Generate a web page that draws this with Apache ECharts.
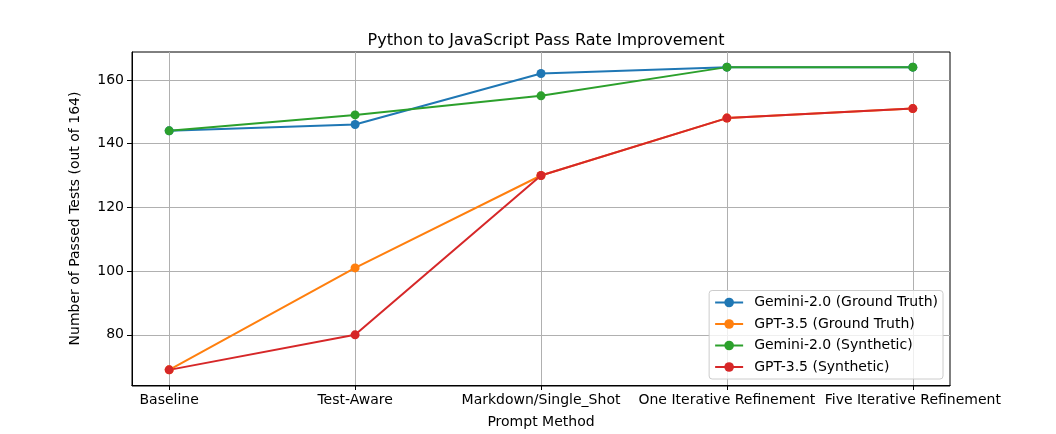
<!DOCTYPE html>
<html>
<head>
<meta charset="utf-8">
<script src="https://cdn.jsdelivr.net/npm/echarts@6/dist/echarts.min.js"></script>
<style>
  html, body { margin: 0; padding: 0; background: #fff; }
  #chart { width: 1056px; height: 434px; }
</style>
</head>
<body>
<div id="chart"></div>
<script>
const categories = ['Baseline', 'Test-Aware', 'Markdown/Single_Shot', 'One Iterative Refinement', 'Five Iterative Refinement'];
const yTicks = [80, 100, 120, 140, 160];

const geminiGround = [144, 146, 162, 164, 164];
const gptGround = [69, 101, 130, 148, 151];
const geminiSynth = [144, 149, 155, 164, 164];
const gptSynth = [69, 80, 130, 148, 151];

const font = 'DejaVu Sans, sans-serif';

function pairs(vals) {
  return vals.map((v, i) => [i, v]);
}

function line(name, color, vals) {
  return {
    name: name,
    type: 'line',
    data: pairs(vals),
    symbol: 'circle',
    symbolSize: 9,
    color: color,
    lineStyle: { width: 2, color: color },
    itemStyle: { color: color },
    emphasis: { disabled: true },
    animation: false
  };
}

const chart = echarts.init(document.getElementById('chart'), null, { renderer: 'canvas' });

chart.setOption({
  backgroundColor: '#fff',
  textStyle: { fontFamily: font },
  title: {
    text: 'Python to JavaScript Pass Rate Improvement',
    left: 541,
    textAlign: 'center',
    top: 28,
    textStyle: { fontFamily: font, fontSize: 16, fontWeight: 'normal', color: '#000' }
  },
  grid: { left: 132, right: 106, top: 52, bottom: 48, containLabel: false },
  legend: {
    orient: 'vertical',
    right: 113,
    bottom: 55,
    padding: [5, 5, 5, 5],
    itemWidth: 28,
    itemHeight: 12,
    itemGap: 7.5,
    backgroundColor: 'rgba(255,255,255,0.8)',
    borderColor: '#cccccc',
    borderWidth: 1,
    borderRadius: 3,
    textStyle: { fontFamily: font, fontSize: 14, color: '#000', lineHeight: 12, padding: [0, 0, 0, 6] },
    data: ['Gemini-2.0 (Ground Truth)', 'GPT-3.5 (Ground Truth)', 'Gemini-2.0 (Synthetic)', 'GPT-3.5 (Synthetic)']
  },
  xAxis: {
    type: 'value',
    min: -0.2,
    max: 4.2,
    name: 'Prompt Method',
    nameLocation: 'middle',
    nameGap: 30,
    nameTextStyle: { fontFamily: font, fontSize: 14, color: '#000' },
    axisLine: { show: true, onZero: false, lineStyle: { color: '#000', width: 1 } },
    axisTick: { show: true, length: 5, customValues: [0, 1, 2, 3, 4], lineStyle: { color: '#000' } },
    axisLabel: {
      customValues: [0, 1, 2, 3, 4],
      formatter: v => categories[Math.round(v)],
      fontFamily: font, fontSize: 14, color: '#000', margin: 8
    },
    splitLine: { show: true, lineStyle: { color: '#b0b0b0', width: 1 } }
  },
  yAxis: {
    type: 'value',
    min: 64.25,
    max: 168.75,
    name: 'Number of Passed Tests (out of 164)',
    nameLocation: 'middle',
    nameGap: 50,
    nameTextStyle: { fontFamily: font, fontSize: 14, color: '#000' },
    axisLine: { show: true, onZero: false, lineStyle: { color: '#000', width: 1 } },
    axisTick: { show: true, length: 5, customValues: yTicks, lineStyle: { color: '#000' } },
    axisLabel: { customValues: yTicks, fontFamily: font, fontSize: 14, color: '#000', margin: 8 },
    splitLine: { show: true, lineStyle: { color: '#b0b0b0', width: 1 } }
  },
  series: [
    line('Gemini-2.0 (Ground Truth)', '#1f77b4', geminiGround),
    line('GPT-3.5 (Ground Truth)', '#ff7f0e', gptGround),
    line('Gemini-2.0 (Synthetic)', '#2ca02c', geminiSynth),
    line('GPT-3.5 (Synthetic)', '#d62728', gptSynth)
  ],
  graphic: [{
    type: 'rect',
    shape: { x: 132, y: 52, width: 818, height: 334 },
    style: { fill: 'none', stroke: '#000', lineWidth: 1 },
    z: 0,
    silent: true
  }]
});
</script>
</body>
</html>
